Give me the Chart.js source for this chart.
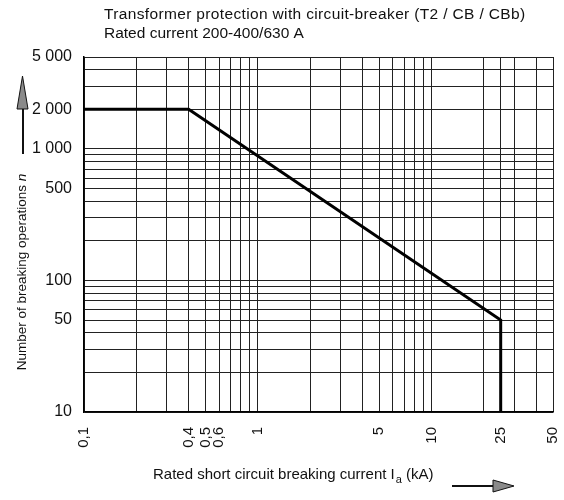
<!DOCTYPE html>
<html>
<head>
<meta charset="utf-8">
<style>
  html, body { margin: 0; padding: 0; background: #fff; }
  #wrap { width: 564px; height: 500px; position: relative; }
</style>
<script src="https://cdn.jsdelivr.net/npm/chart.js@4/dist/chart.umd.min.js"></script>
</head>
<body>
<div id="wrap"><canvas id="chart" width="564" height="500"></canvas></div>
<script>
// Breaking-operation curve: rated short-circuit breaking current (kA) vs. number of operations
const currentKA = [0.1, 0.4, 25, 25];
const operations = [2000, 2000, 50, 10];

// Grid positions on both log axes
const gridCurrent = [0.1, 0.2, 0.3, 0.4, 0.5, 0.6, 0.7, 0.8, 0.9,
                     1, 2, 3, 4, 5, 6, 7, 8, 9,
                     10, 20, 25, 30, 40, 50];
const gridOperations = [10, 20, 30, 40, 50, 60, 70, 80, 90,
                        100, 200, 300, 400, 500, 600, 700, 800, 900,
                        1000, 2000, 3000, 4000, 5000];

// Tick labels that are printed
const currentLabels = [0.1, 0.4, 0.5, 0.6, 1, 5, 10, 25, 50];
const operationLabels = [10, 50, 100, 500, 1000, 2000, 5000];

const titleLines = [
  'Transformer protection with circuit-breaker (T2 / CB / CBb)',
  'Rated current 200-400/630 A'
];

const FONT = '"Liberation Sans", Arial, Helvetica, sans-serif';

function fmtCurrent(v) { return String(v).replace('.', ','); }
function fmtOps(v) {
  return v >= 1000 ? String(v).replace(/\B(?=(\d{3})+(?!\d))/g, ' ') : String(v);
}

const points = currentKA.map((x, i) => ({ x: x, y: operations[i] }));

// Titles, axis captions and arrows
const decorations = {
  id: 'decorations',
  afterDraw(chart) {
    const ctx = chart.ctx;
    ctx.save();
    ctx.fillStyle = '#111';
    ctx.textBaseline = 'alphabetic';
    ctx.textAlign = 'left';
    ctx.font = '15.5px ' + FONT;
    if ('letterSpacing' in ctx) ctx.letterSpacing = '0.35px';
    ctx.fillText(titleLines[0], 104, 19);
    if ('letterSpacing' in ctx) ctx.letterSpacing = '0px';
    ctx.fillText(titleLines[1], 104, 38);

    // vertical axis caption with italic n
    ctx.save();
    ctx.translate(26, 272);
    ctx.rotate(-Math.PI / 2);
    const yt1 = 'Number of breaking operations ';
    ctx.font = '13.5px ' + FONT;
    const w1 = ctx.measureText(yt1).width;
    ctx.font = 'italic 13.5px ' + FONT;
    const w2 = ctx.measureText('n').width;
    const sx = -(w1 + w2) / 2;
    ctx.font = '13.5px ' + FONT;
    ctx.fillText(yt1, sx, 0);
    ctx.font = 'italic 13.5px ' + FONT;
    ctx.fillText('n', sx + w1, 0);
    ctx.restore();

    // upward arrow
    ctx.strokeStyle = '#111';
    ctx.lineWidth = 2;
    ctx.beginPath();
    ctx.moveTo(23, 154);
    ctx.lineTo(23, 104);
    ctx.stroke();
    ctx.beginPath();
    ctx.moveTo(22.5, 76);
    ctx.lineTo(28, 109);
    ctx.lineTo(17, 109);
    ctx.closePath();
    ctx.fillStyle = '#8a8a8a';
    ctx.fill();
    ctx.lineWidth = 1;
    ctx.stroke();

    // horizontal axis caption with subscript a
    ctx.fillStyle = '#111';
    ctx.font = '15px ' + FONT;
    const xa = 'Rated short circuit breaking current I';
    let x = 153;
    const base = 479;
    ctx.fillText(xa, x, base);
    x += ctx.measureText(xa).width;
    ctx.font = '11px ' + FONT;
    ctx.fillText('a', x + 1, base + 4);
    x += ctx.measureText('a').width + 1;
    ctx.font = '15px ' + FONT;
    ctx.fillText(' (kA)', x, base);

    // rightward arrow
    ctx.strokeStyle = '#111';
    ctx.lineWidth = 2;
    ctx.beginPath();
    ctx.moveTo(452, 486);
    ctx.lineTo(496, 486);
    ctx.stroke();
    ctx.beginPath();
    ctx.moveTo(514, 486);
    ctx.lineTo(493, 480);
    ctx.lineTo(493, 492);
    ctx.closePath();
    ctx.fillStyle = '#8a8a8a';
    ctx.fill();
    ctx.lineWidth = 1;
    ctx.stroke();
    ctx.restore();
  }
};

new Chart(document.getElementById('chart'), {
  type: 'line',
  data: {
    datasets: [{
      data: points,
      borderColor: '#000',
      borderWidth: 3,
      pointRadius: 0,
      tension: 0,
      fill: false
    }]
  },
  options: {
    responsive: false,
    animation: false,
    devicePixelRatio: 1,
    layout: { padding: { left: 0, right: 11, top: 57, bottom: 0 } },
    plugins: {
      legend: { display: false },
      tooltip: { enabled: false },
      title: { display: false }
    },
    scales: {
      x: {
        type: 'logarithmic',
        min: 0.1,
        max: 50,
        afterBuildTicks(scale) { scale.ticks = gridCurrent.map(v => ({ value: v })); },
        afterFit(scale) {
          scale.height = 88;
          scale.paddingLeft = 0;
          scale.paddingRight = 0;
        },
        grid: { color: '#222', lineWidth: 1, drawTicks: false },
        border: { color: '#000', width: 1.5 },
        ticks: {
          autoSkip: false,
          maxRotation: 90,
          minRotation: 90,
          padding: 15,
          color: '#111',
          font: { family: FONT, size: 15 },
          callback: v => currentLabels.includes(v) ? fmtCurrent(v) : ''
        }
      },
      y: {
        type: 'logarithmic',
        min: 10,
        max: 5000,
        afterBuildTicks(scale) { scale.ticks = gridOperations.map(v => ({ value: v })); },
        afterFit(scale) {
          scale.width = 84;
          scale.paddingTop = 0;
          scale.paddingBottom = 0;
        },
        grid: { color: '#222', lineWidth: 1, drawTicks: false },
        border: { color: '#000', width: 1.5 },
        ticks: {
          autoSkip: false,
          padding: 12,
          color: '#111',
          font: { family: FONT, size: 16 },
          callback: v => operationLabels.includes(v) ? fmtOps(v) : ''
        }
      }
    }
  },
  plugins: [decorations]
});
</script>
</body>
</html>
